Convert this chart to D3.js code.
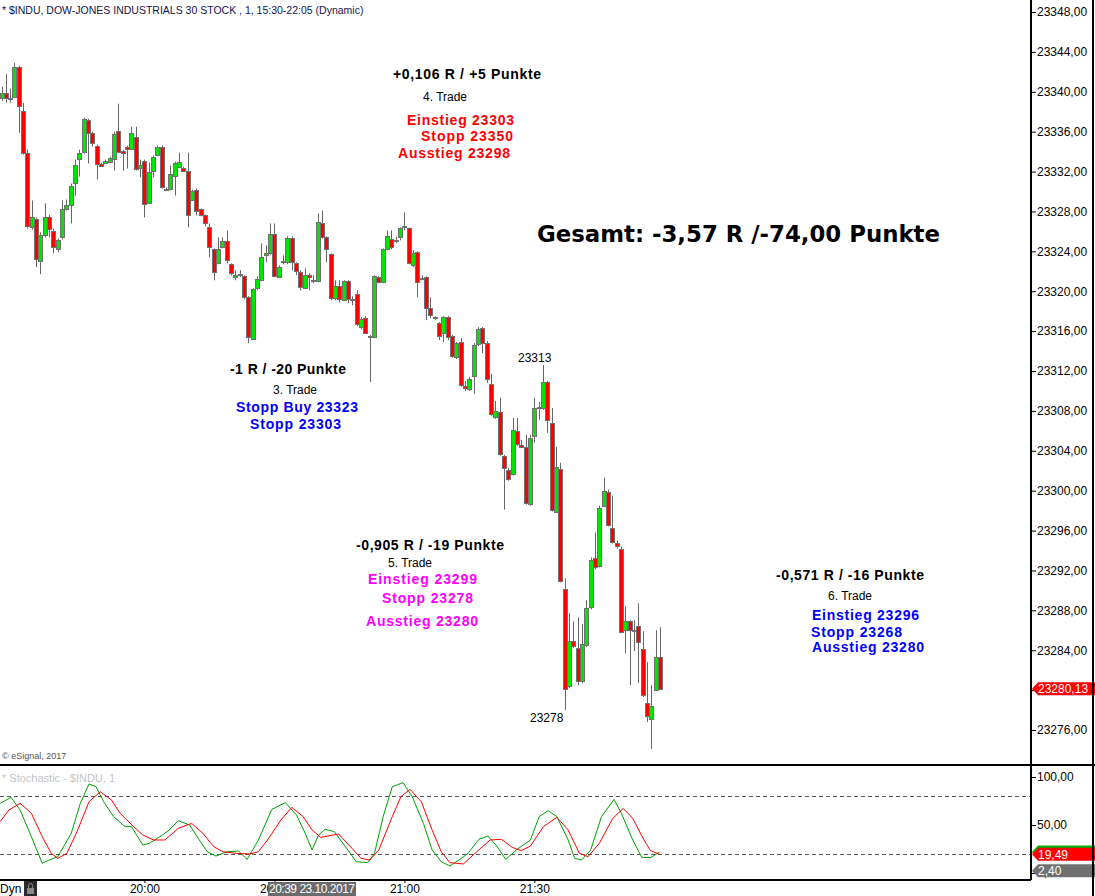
<!DOCTYPE html>
<html lang="de">
<head>
<meta charset="UTF-8">
<title>$INDU 1 min - Trades</title>
<style>
  body { margin: 0; background: #fff; }
  svg { display: block; font-family: "Liberation Sans", Arial, sans-serif; }
</style>
</head>
<body>
<div id="chart"></div>
<script src="https://d3js.org/d3.v7.min.js"></script>
<script>
// 1-minute bars, first bar at 19:27
const firstBar = '19:27'
const barOpen = [
  23339.4,23339.9,23339.4,23339.5,23342.5,23338.1,23333.9,23326.4,23327.2,23323.0,
  23325.6,23327.4,23326.0,23324.2,23325.4,23328.2,23328.7,23330.9,23333.3,23334.0,
  23337.2,23335.9,23334.6,23332.8,23332.9,23333.0,23333.3,23336.1,23334.1,23334.5,
  23334.3,23335.5,23332.4,23333.1,23328.9,23332.1,23333.7,23334.5,23330.3,23330.3,
  23331.6,23332.5,23332.4,23332.1,23329.2,23330.2,23328.2,23327.6,23326.4,23324.2,
  23322.8,23324.4,23325.0,23322.7,23321.4,23321.6,23321.5,23319.4,23315.2,23320.3,
  23321.1,23323.6,23323.8,23325.7,23321.4,23322.9,23322.9,23325.3,23322.8,23321.9,
  23320.3,23321.6,23321.1,23321.0,23326.8,23325.4,23323.7,23319.3,23320.5,23319.1,
  23321.0,23319.2,23319.7,23316.4,23317.3,23315.5,23315.4,23321.4,23320.9,23324.2,
  23325.2,23325.1,23325.4,23326.4,23326.3,23322.6,23323.9,23321.3,23321.4,23318.3,
  23317.4,23316.8,23315.8,23317.4,23315.5,23313.4,23314.9,23310.5,23310.2,23311.5,
  23314.7,23316.3,23314.8,23310.7,23307.4,23307.9,23303.5,23302.1,23301.7,23306.0,
  23304.6,23304.4,23298.7,23305.5,23308.3,23308.3,23310.9,23306.8,23297.9,23302.2,
  23290.1,23280.4,23284.9,23284.2,23280.9,23284.5,23288.3,23293.2,23292.5,23298.5,
  23299.9,23296.3,23294.8,23294.2,23286.0,23286.9,23286.0,23286.4,23284.1,23278.7,
  23277.1,23280.0,23283.3
]
const barHigh = [
  23340.5,23341.8,23340.3,23342.9,23342.6,23338.9,23334.2,23329.1,23327.4,23325.9,
  23328.8,23327.7,23326.3,23325.3,23329.1,23329.2,23330.8,23333.2,23334.2,23337.4,
  23337.3,23336.0,23334.7,23332.9,23333.2,23333.5,23336.0,23338.8,23334.2,23334.6,
  23336.5,23336.5,23333.2,23333.2,23332.9,23333.6,23334.6,23334.6,23330.4,23332.6,
  23333.0,23333.9,23332.5,23333.9,23330.2,23330.3,23328.3,23327.7,23326.8,23324.3,
  23325.4,23325.4,23326.1,23322.8,23322.1,23322.1,23321.6,23319.5,23320.3,23321.5,
  23324.8,23324.6,23326.8,23326.8,23322.6,23323.6,23325.5,23325.5,23322.9,23322.1,
  23322.3,23321.8,23321.6,23327.8,23328.1,23325.5,23323.8,23321.1,23321.1,23321.1,
  23321.1,23319.5,23320.1,23317.4,23317.5,23315.6,23321.6,23321.5,23324.3,23326.1,
  23326.1,23325.5,23326.4,23327.9,23326.4,23324.1,23324.0,23321.6,23321.5,23319.4,
  23317.5,23316.9,23317.5,23317.5,23315.6,23314.9,23315.3,23311.0,23311.4,23314.8,
  23316.4,23316.4,23315.0,23311.7,23309.0,23309.3,23303.6,23302.3,23307.3,23307.3,
  23305.1,23305.6,23305.6,23309.3,23308.9,23312.6,23311.0,23308.3,23304.4,23302.8,
  23291.2,23287.7,23286.9,23287.3,23286.6,23289.0,23293.3,23295.8,23298.5,23301.3,
  23300.1,23299.5,23295.0,23294.4,23288.4,23287.0,23287.0,23288.7,23285.9,23282.8,
  23280.5,23286.0,23286.3
]
const barLow = [
  23339.1,23338.9,23338.9,23339.4,23335.9,23333.7,23326.3,23326.2,23322.4,23321.7,
  23325.4,23325.4,23323.8,23323.9,23325.2,23328.1,23326.8,23329.6,23331.5,23333.8,
  23332.8,23334.5,23331.2,23332.5,23332.8,23332.9,23332.1,23333.9,23332.1,23332.3,
  23334.2,23332.1,23331.4,23327.4,23328.8,23331.4,23333.6,23330.3,23330.1,23330.1,
  23329.6,23332.4,23332.0,23326.4,23329.1,23327.6,23327.5,23326.5,23323.4,23321.1,
  23322.7,23324.3,23322.8,23321.6,23321.1,23321.4,23319.2,23314.8,23315.1,23320.1,
  23321.0,23322.9,23323.6,23321.4,23321.3,23322.7,23322.7,23322.1,23321.6,23320.1,
  23320.2,23320.1,23320.8,23320.9,23325.3,23322.9,23319.1,23319.1,23318.9,23319.0,
  23318.8,23318.6,23316.5,23316.2,23315.7,23310.9,23315.3,23320.8,23320.8,23324.1,
  23324.2,23324.8,23325.1,23326.1,23322.7,23322.4,23319.4,23321.1,23317.1,23317.3,
  23317.1,23315.1,23314.9,23315.1,23313.3,23313.2,23310.4,23310.0,23310.0,23309.7,
  23314.5,23313.8,23310.8,23307.5,23307.2,23303.5,23298.1,23301.0,23301.5,23304.5,
  23304.3,23298.6,23298.5,23304.8,23307.1,23308.1,23305.8,23297.9,23297.8,23290.8,
  23278.0,23280.2,23284.2,23280.5,23280.7,23284.3,23288.1,23292.1,23292.3,23298.4,
  23296.4,23294.7,23294.2,23285.8,23283.7,23280.5,23283.9,23280.7,23279.3,23276.8,
  23274.1,23279.9,23280.1
]
const barClose = [
  23339.9,23339.4,23339.3,23342.5,23338.6,23333.9,23326.6,23327.4,23323.2,23325.6,
  23327.4,23326.2,23324.4,23325.1,23328.2,23328.6,23330.6,23332.7,23333.9,23337.3,
  23335.9,23334.9,23332.8,23332.6,23333.1,23333.4,23335.8,23334.0,23333.9,23334.3,
  23335.9,23332.3,23332.7,23328.8,23332.0,23333.5,23334.5,23330.5,23330.2,23331.8,
  23332.9,23333.0,23332.1,23327.7,23330.1,23328.1,23327.6,23326.8,23324.4,23321.9,
  23324.2,23325.0,23323.1,23321.8,23321.6,23321.7,23319.4,23315.4,23320.2,23321.2,
  23323.4,23323.8,23325.7,23321.5,23322.4,23323.0,23325.3,23322.9,23322.0,23320.4,
  23321.6,23321.4,23321.0,23326.9,23325.4,23324.2,23319.3,23320.5,23319.2,23321.0,
  23319.2,23319.1,23316.7,23317.2,23315.8,23315.4,23321.5,23320.9,23324.2,23325.5,
  23324.4,23325.0,23326.3,23326.5,23322.8,23323.8,23320.9,23321.2,23318.3,23317.6,
  23317.3,23315.5,23317.4,23315.4,23313.5,23314.8,23310.6,23310.3,23311.2,23314.6,
  23316.2,23314.8,23311.2,23307.7,23308.0,23303.7,23302.3,23301.2,23306.1,23304.7,
  23304.4,23298.8,23305.3,23308.3,23308.4,23310.9,23307.1,23298.1,23302.4,23291.0,
  23280.1,23284.9,23284.4,23280.9,23284.6,23288.2,23293.0,23292.3,23298.3,23300.0,
  23296.6,23294.9,23294.5,23285.9,23286.9,23286.0,23285.9,23284.8,23279.5,23277.4,
  23278.4,23283.3,23280.13
]

// stochastic, read at bar positions (bar number, value)
const stochKBar = [0.7,3.2,5.3,7.9,10.4,12.0,14.0,17.1,19.2,21.2,22.8,24.8,26.9,29.5,31.0,33.6,35.1,38.2,39.7,41.8,
  44.4,46.4,48.5,50.5,53.1,55.7,57.7,60.3,63.4,66.5,69.1,71.1,72.7,74.2,75.7,77.8,80.4,82.9,85.5,87.1,
  89.1,91.2,93.7,95.8,98.4,100.4,102.5,104.5,106.6,108.7,111.2,113.3,115.3,117.4,120.0,123.1,125.1,127.2,129.2,131.8,
  133.3,134.9,137.0,139.5,142.4,144.1,146.7,148.8,150.8,152.9]
const stochK = [72.6,78.8,65.6,37.8,10.1,13.5,17.0,41.3,72.6,92.7,89.9,72.6,58.7,48.3,48.3,29.2,30.9,39.6,44.8,54.5,
  50.0,36.1,22.2,17.7,22.2,22.9,14.2,34.4,66.3,73.3,60.4,41.3,24.0,39.6,45.5,43.1,27.4,11.8,10.8,20.5,
  58.7,89.9,94.1,79.5,51.7,24.0,11.8,7.3,13.5,20.5,35.1,38.5,28.1,14.2,24.6,34.4,58.7,64.9,58.7,34.4,
  15.3,13.5,24.0,58.7,76.7,62.1,34.4,16.3,16.0,21.75]
const stochDBar = [0.7,2.7,5.3,7.9,10.4,12.5,14.0,16.1,18.6,21.2,23.8,26.4,28.4,31.5,33.6,36.1,38.7,41.8,44.9,47.5,
  50.0,52.1,55.2,58.3,60.3,62.4,65.5,68.0,70.6,72.7,74.7,78.8,81.9,84.0,86.0,88.1,91.2,93.2,95.3,97.9,
  100.4,102.5,104.5,107.6,110.7,113.8,116.4,118.9,121.0,123.1,126.1,129.2,131.8,134.4,136.4,139.0,142.1,144.5,146.7,149.3,
  150.8,152.9]
const stochD = [53.5,65.6,72.6,62.1,37.8,20.5,15.3,20.5,44.8,74.3,84.7,76.0,62.1,48.3,39.6,34.4,34.4,46.5,51.7,41.3,
  27.4,22.2,20.5,19.8,22.2,34.4,55.2,68.4,58.7,44.8,37.1,40.6,25.7,15.3,13.5,24.0,58.7,79.5,87.1,74.3,
  44.8,22.2,10.8,9.4,22.2,34.4,35.1,26.7,23.3,28.1,48.3,58.0,44.8,20.5,17.0,30.9,56.9,67.3,56.9,34.4,
  23.3,19.49]
const stochLevels = [20, 80]
const stochTicks = [0, 50, 100]
const stochRange = 2.40

const priceTicks = d3.range(23276, 23349, 4)
const timeLabels = ['20:00', '20:30', '21:00', '21:30']
const cursorLabel = '20:39 23.10.2017'

const title = '* $INDU, DOW-JONES INDUSTRIALS 30 STOCK , 1, 15:30-22:05 (Dynamic)'

const notes = [
  { t: '+0,106 R / +5 Punkte', x: 393, y: 74, size: 14, bold: true, color: '#000', w: 148 },
  { t: '4. Trade', x: 423, y: 97, size: 12, color: '#000' },
  { t: 'Einstieg 23303', x: 407, y: 120, size: 14, bold: true, color: '#ff0000', w: 107 },
  { t: 'Stopp 23350', x: 421, y: 136, size: 14, bold: true, color: '#ff0000', w: 92 },
  { t: 'Ausstieg 23298', x: 398, y: 153, size: 14, bold: true, color: '#ff0000', w: 112 },
  { t: '-1 R / -20 Punkte', x: 230, y: 369, size: 14, bold: true, color: '#000', w: 116 },
  { t: '3. Trade', x: 273, y: 390, size: 12, color: '#000' },
  { t: 'Stopp Buy 23323', x: 236, y: 407, size: 14, bold: true, color: '#0000ff', w: 122 },
  { t: 'Stopp 23303', x: 250, y: 424, size: 14, bold: true, color: '#0000ff', w: 91 },
  { t: '23313', x: 518, y: 358, size: 12, color: '#000' },
  { t: '-0,905 R / -19 Punkte', x: 356, y: 545, size: 14, bold: true, color: '#000', w: 148 },
  { t: '5. Trade', x: 388, y: 563, size: 12, color: '#000' },
  { t: 'Einstieg 23299', x: 368, y: 579, size: 14, bold: true, color: '#ff00ff', w: 109 },
  { t: 'Stopp 23278', x: 382, y: 598, size: 14, bold: true, color: '#ff00ff', w: 91 },
  { t: 'Ausstieg 23280', x: 366, y: 621, size: 14, bold: true, color: '#ff00ff', w: 112 },
  { t: '23278', x: 530, y: 718, size: 12, color: '#000' },
  { t: '-0,571 R / -16 Punkte', x: 776, y: 575, size: 14, bold: true, color: '#000', w: 148 },
  { t: '6. Trade', x: 828, y: 596, size: 12, color: '#000' },
  { t: 'Einstieg 23296', x: 812, y: 615, size: 14, bold: true, color: '#0000ff', w: 107 },
  { t: 'Stopp 23268', x: 811, y: 632, size: 14, bold: true, color: '#0000ff', w: 91 },
  { t: 'Ausstieg 23280', x: 812, y: 647, size: 14, bold: true, color: '#0000ff', w: 112 }
]

// ---- layout
const width = 1095
const height = 896
const axisX = 1031
const mainTop = 0, mainBottom = 765
const stochBottom = 880

const comma2 = v => d3.format('.2f')(v).replace('.', ',')
const toMin = s => { const p = s.split(':'); return +p[0] * 60 + +p[1] }

const svg = d3.select('#chart').append('svg')
  .attr('width', width).attr('height', height)

const xScale = d3.scaleLinear().domain([1, barClose.length]).range([1.5, 660])
const yScale = d3.scaleLinear().domain([23276, 23348]).range([730, 12])
const sScale = d3.scaleLinear().domain([0, 100]).range([873, 777])

const bars = d3.range(barClose.length).map(i => ({
  n: i + 1, o: barOpen[i], h: barHigh[i], l: barLow[i], c: barClose[i]
}))

// ---- candles
const candle = svg.append('g').attr('class', 'candles')
candle.selectAll('line')
  .data(bars).enter().append('line')
  .attr('x1', d => Math.round(xScale(d.n)) + 0.5)
  .attr('x2', d => Math.round(xScale(d.n)) + 0.5)
  .attr('y1', d => yScale(Math.max(d.h, d.o, d.c)))
  .attr('y2', d => yScale(Math.min(d.l, d.o, d.c)))
  .attr('stroke', '#666')
  .attr('stroke-width', 1)

candle.selectAll('rect')
  .data(bars).enter().append('rect')
  .attr('x', d => Math.round(xScale(d.n)) - 1.5)
  .attr('width', 4)
  .attr('y', d => Math.round(yScale(Math.max(d.o, d.c))) + 0.5)
  .attr('height', d => Math.max(1, Math.round(Math.abs(yScale(d.o) - yScale(d.c)))))
  .attr('fill', d => d.c >= d.o ? '#00e600' : '#ff0000')
  .attr('stroke', '#707070')
  .attr('stroke-width', 1)

// ---- price axis
const priceAxis = d3.axisRight(yScale)
  .tickValues(priceTicks).tickSize(5).tickSizeOuter(0).tickPadding(1)
  .tickFormat(comma2)
const pa = svg.append('g').attr('transform', `translate(${axisX},0)`).call(priceAxis)
pa.select('.domain').remove()
pa.selectAll('text').attr('font-size', 12).attr('font-family', '"Liberation Sans", Arial, sans-serif').attr('fill', '#000')
pa.selectAll('line').attr('stroke', '#000')

// ---- stochastic
stochLevels.forEach(v => {
  svg.append('line')
    .attr('x1', 0).attr('x2', axisX)
    .attr('y1', Math.round(sScale(v)) + 0.5).attr('y2', Math.round(sScale(v)) + 0.5)
    .attr('stroke', '#555').attr('stroke-dasharray', '4,3')
})

const kLine = d3.line().x(d => xScale(d[0])).y(d => sScale(d[1]))
svg.append('path')
  .attr('d', kLine(stochKBar.map((b, i) => [b, stochK[i]])))
  .attr('fill', 'none').attr('stroke', '#00a000').attr('stroke-width', 1)
svg.append('path')
  .attr('d', kLine(stochDBar.map((b, i) => [b, stochD[i]])))
  .attr('fill', 'none').attr('stroke', '#ff0000').attr('stroke-width', 1)

const stochAxis = d3.axisRight(sScale)
  .tickValues(stochTicks).tickSize(5).tickSizeOuter(0).tickPadding(1)
  .tickFormat(comma2)
const sa = svg.append('g').attr('transform', `translate(${axisX},0)`).call(stochAxis)
sa.select('.domain').remove()
sa.selectAll('text').attr('font-size', 12).attr('font-family', '"Liberation Sans", Arial, sans-serif').attr('fill', '#000')
sa.selectAll('line').attr('stroke', '#000')

// ---- value tags on the right scale
function tag (y, fill, label) {
  const g = svg.append('g')
  g.append('path')
    .attr('d', `M${axisX + 1},${y} L${axisX + 7},${y - 6.5} L${width},${y - 6.5} L${width},${y + 6.5} L${axisX + 7},${y + 6.5} Z`)
    .attr('fill', fill)
  g.append('text').attr('x', axisX + 7).attr('y', y + 4.5)
    .attr('font-size', 12).attr('fill', '#fff').text(label)
}
tag(sScale(stochK[stochK.length - 1]), '#00b000', comma2(stochK[stochK.length - 1]))
tag(sScale(stochD[stochD.length - 1]), '#ff0000', comma2(stochD[stochD.length - 1]))
tag(sScale(stochRange), '#707070', comma2(stochRange))
tag(yScale(barClose[barClose.length - 1]), '#ff0000', comma2(barClose[barClose.length - 1]))

// ---- time axis
const tickBars = timeLabels.map(t => toMin(t) - toMin(firstBar) + 1)
const timeAxis = d3.axisBottom(xScale)
  .tickValues(tickBars).tickSize(3).tickSizeOuter(0)
  .tickFormat((d, i) => timeLabels[i])
const ta = svg.append('g').attr('transform', `translate(0,${stochBottom})`).call(timeAxis)
ta.select('.domain').remove()
ta.selectAll('text').attr('y', 4).attr('font-size', 12)
  .attr('font-family', '"Liberation Sans", Arial, sans-serif').attr('fill', '#000')
ta.selectAll('line').attr('stroke', '#000')

// cursor date box
svg.append('rect').attr('x', 268).attr('y', 882).attr('width', 88).attr('height', 14).attr('fill', '#6b6b6b')
svg.append('text').attr('x', 269).attr('y', 893).attr('font-size', 12).attr('fill', '#fff')
  .attr('textLength', 86).text(cursorLabel)

svg.append('text').attr('x', 0).attr('y', 893).attr('font-size', 12).attr('fill', '#000').text('Dyn')
svg.append('rect').attr('x', 24).attr('y', 881).attr('width', 13).attr('height', 15).attr('fill', '#2b2b2b')
svg.append('rect').attr('x', 27).attr('y', 888).attr('width', 7).attr('height', 6).attr('fill', '#888')
svg.append('path').attr('d', 'M28.5,888 v-2.5 a2,2 0 0 1 4,0 v2.5').attr('fill', 'none').attr('stroke', '#888')

// ---- frame lines
const frame = svg.append('g').attr('stroke', '#000').attr('stroke-width', 2)
frame.append('line').attr('x1', 0).attr('x2', width).attr('y1', mainBottom).attr('y2', mainBottom)
frame.append('line').attr('x1', 0).attr('x2', axisX).attr('y1', stochBottom).attr('y2', stochBottom)
frame.append('line').attr('x1', axisX).attr('x2', axisX).attr('y1', mainTop).attr('y2', stochBottom)
frame.append('line').attr('x1', width - 2).attr('x2', width - 2).attr('y1', 0).attr('y2', height)

// ---- labels
svg.append('text').attr('x', 2).attr('y', 14).attr('font-size', 10.5).attr('fill', '#14144a').text(title)
svg.append('text').attr('x', 2).attr('y', 759).attr('font-size', 9).attr('fill', '#555').text('© eSignal, 2017')
svg.append('text').attr('x', 2).attr('y', 782).attr('font-size', 11).attr('fill', '#c4c4c4').text('* Stochastic - $INDU, 1')

svg.append('text')
  .attr('x', 537).attr('y', 242)
  .attr('font-family', '"DejaVu Sans", sans-serif')
  .attr('font-weight', 'bold').attr('font-size', 22.5)
  .attr('textLength', 403).attr('lengthAdjust', 'spacingAndGlyphs')
  .text('Gesamt: -3,57 R /-74,00 Punkte')

svg.append('g').selectAll('text')
  .data(notes).enter().append('text')
  .attr('x', d => d.x)
  .attr('y', d => d.y + d.size * 0.36)
  .attr('font-size', d => d.size)
  .attr('font-weight', d => d.bold ? 'bold' : 'normal')
  .attr('fill', d => d.color)
  .attr('textLength', d => d.w || null)
  .text(d => d.t)
</script>
</body>
</html>
